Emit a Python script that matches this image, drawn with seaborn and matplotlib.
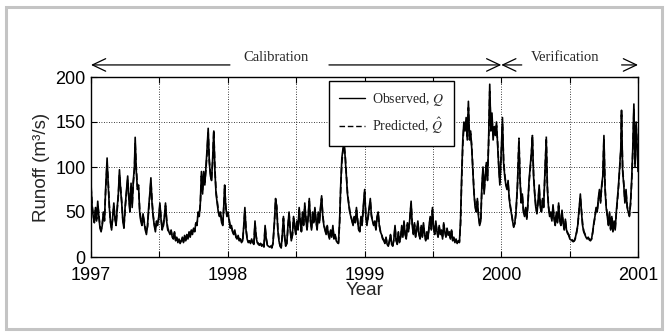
import numpy as np
import pandas as pd
import matplotlib
matplotlib.use("Agg")
import matplotlib.pyplot as plt
import seaborn as sns
from matplotlib.lines import Line2D
from matplotlib.patches import Rectangle

# ---------------- data (day offset from 1997-01-01, runoff m3/s) ----------------
START_YEAR = 1997

obs_1997 = [(0,82),(3,55),(6,45),(9,38),(12,55),(15,40),(18,62),(21,45),(24,32),(27,28),(30,35),(33,50),(36,40),(39,75),(43,110),(46,80),(49,55),(52,38),(55,30),(58,45),(61,60),(64,42),(67,35),(70,55),(73,70),(76,97),(79,75),(82,60),(85,40),(88,32),(91,55),(94,70),(98,90),(101,65),(104,50),(107,82),(110,55),(113,85),(116,100),(118,133),(121,95),(124,75),(127,80),(130,50),(133,40),(136,35),(139,48),(142,38),(145,30),(148,25),(151,35),(154,55),(157,70),(160,88),(163,60),(166,45),(169,35),(172,28),(175,40),(178,35),(181,45),(184,60),(187,42),(190,30),(193,35),(196,45),(199,60),(202,40),(205,30),(208,28),(211,25),(214,30),(217,22),(220,20),(223,28),(226,18),(229,22),(232,16),(235,20),(238,15),(241,18),(244,22),(247,16),(250,24),(253,18),(256,25),(259,20),(262,28),(265,22),(268,30),(271,25),(274,32),(277,28),(280,38),(283,35),(286,50),(289,45),(292,60),(295,95),(298,70),(301,95),(304,80),(307,100),(310,120),(313,143),(316,105),(319,90),(322,85),(325,110),(328,140),(331,95),(334,70),(337,60),(340,50),(343,45),(346,50),(349,38),(352,35),(355,60),(357,80),(360,55),(363,45)]
obs_1998 = [(366,50),(369,40),(372,32),(375,35),(378,28),(381,25),(384,30),(387,22),(390,20),(393,24),(396,18),(399,20),(402,16),(405,18),(408,35),(411,55),(414,30),(417,20),(420,16),(423,18),(426,15),(429,20),(432,16),(435,14),(438,40),(441,22),(444,16),(447,14),(450,13),(453,15),(456,12),(459,14),(462,11),(465,35),(468,20),(471,13),(474,12),(477,11),(480,12),(483,10),(486,15),(490,40),(493,65),(496,55),(499,30),(502,18),(505,12),(508,10),(511,25),(514,45),(517,22),(520,12),(523,15),(526,35),(529,50),(532,30),(535,18),(538,25),(541,45),(544,35),(547,25),(550,40),(553,30),(556,55),(559,38),(562,28),(565,50),(568,35),(571,60),(574,42),(577,30),(580,45),(583,65),(586,40),(589,30),(592,50),(595,38),(598,55),(601,40),(604,30),(607,50),(610,38),(613,55),(616,68),(619,45),(622,35),(625,30),(628,25),(631,35),(634,25),(637,20),(640,30),(643,22),(646,35),(649,20),(652,25),(655,18),(658,16),(661,15),(664,40),(667,80),(670,110),(673,120),(676,127),(679,110),(682,90),(685,70),(688,60),(691,50),(694,45),(697,40),(700,35),(703,45),(706,38),(709,55),(712,40),(715,30),(718,28),(721,45),(724,35),(727,55)]
obs_1999 = [(731,75),(734,45),(737,35),(740,45),(743,55),(746,65),(749,45),(752,40),(755,35),(758,40),(761,30),(764,45),(767,50),(770,35),(773,28),(776,25),(779,20),(782,18),(785,15),(788,22),(791,14),(794,12),(797,18),(800,25),(803,14),(806,12),(809,20),(812,35),(815,18),(818,14),(821,28),(824,16),(827,22),(830,35),(833,22),(836,40),(839,25),(842,20),(845,38),(848,28),(851,40),(855,62),(858,35),(861,25),(864,38),(867,22),(870,30),(873,40),(876,25),(879,20),(882,35),(885,22),(888,38),(891,25),(894,18),(897,28),(900,20),(903,35),(906,45),(909,30),(912,55),(915,32),(918,25),(921,40),(924,28),(927,22),(930,35),(933,25),(936,30),(939,20),(942,38),(945,28),(948,22),(951,32),(954,24),(957,28),(960,20),(963,30),(966,18),(969,22),(972,16),(975,20),(978,15),(981,18),(984,16),(987,40),(990,90),(993,130),(996,150),(999,140),(1002,155),(1005,130),(1008,173),(1011,130),(1014,140),(1017,120),(1020,95),(1023,70),(1026,55),(1029,50),(1032,65),(1035,45),(1038,35),(1041,40),(1044,80),(1047,100),(1050,70),(1053,90),(1056,105),(1059,85),(1062,130),(1065,192),(1068,140),(1071,160),(1074,130),(1077,145),(1080,135),(1083,150),(1086,125),(1089,100),(1092,80)]
obs_2000 = [(1096,120),(1099,155),(1102,105),(1105,90),(1108,80),(1111,75),(1114,85),(1117,65),(1120,55),(1123,48),(1126,40),(1129,33),(1132,38),(1135,50),(1139,80),(1143,128),(1146,85),(1149,60),(1152,70),(1155,50),(1158,45),(1161,55),(1164,42),(1167,60),(1170,85),(1173,100),(1176,115),(1179,133),(1182,90),(1185,70),(1188,55),(1191,48),(1194,62),(1197,80),(1200,55),(1203,50),(1206,65),(1209,55),(1212,90),(1216,130),(1219,75),(1222,55),(1225,45),(1228,50),(1231,40),(1234,58),(1237,42),(1240,35),(1243,50),(1246,38),(1249,60),(1252,40),(1255,35),(1258,52),(1261,38),(1264,30),(1267,42),(1270,30),(1273,26),(1276,24),(1279,20),(1282,19),(1285,18),(1288,17),(1291,18),(1294,22),(1297,28),(1300,35),(1303,50),(1307,70),(1310,50),(1313,35),(1316,28),(1319,25),(1322,22),(1325,20),(1328,22),(1331,19),(1334,18),(1337,20),(1340,28),(1343,38),(1346,45),(1349,55),(1352,50),(1355,65),(1358,75),(1361,60),(1364,80),(1367,90),(1370,135),(1373,75),(1376,55),(1379,45),(1382,35),(1385,50),(1388,30),(1391,45),(1394,28),(1397,40),(1400,30),(1403,50),(1406,65),(1409,80),(1412,100),(1415,120),(1417,163),(1420,95),(1423,80),(1426,60),(1429,75),(1432,55),(1435,50),(1438,45),(1441,60),(1444,85),(1447,120),(1450,170),(1453,100),(1456,150),(1459,120),(1461,95)]

pred_1997 = [(0,78),(3,58),(6,47),(9,40),(12,52),(15,42),(18,58),(21,47),(24,34),(27,30),(30,36),(33,48),(36,42),(39,72),(43,104),(46,84),(49,57),(52,40),(55,32),(58,43),(61,57),(64,44),(67,37),(70,52),(73,68),(76,92),(79,78),(82,62),(85,42),(88,34),(91,52),(94,68),(98,86),(101,68),(104,52),(107,78),(110,58),(113,82),(116,96),(118,126),(121,99),(124,78),(127,77),(130,53),(133,42),(136,37),(139,46),(142,40),(145,32),(148,27),(151,34),(154,52),(157,67),(160,84),(163,63),(166,47),(169,37),(172,30),(175,38),(178,36),(181,43),(184,57),(187,44),(190,32),(193,34),(196,43),(199,57),(202,42),(205,32),(208,29),(211,26),(214,29),(217,23),(220,21),(223,27),(226,19),(229,21),(232,17),(235,19),(238,16),(241,18),(244,21),(247,17),(250,23),(253,19),(256,24),(259,21),(262,27),(265,23),(268,29),(271,26),(274,31),(277,29),(280,37),(283,36),(286,48),(289,46),(292,58),(295,90),(298,74),(301,92),(304,83),(307,97),(310,116),(313,138),(316,108),(319,93),(322,87),(325,106),(328,141),(331,98),(334,73),(337,62),(340,52),(343,46),(346,49),(349,40),(352,36),(355,58),(357,76),(360,57),(363,46)]
pred_1998 = [(366,48),(369,42),(372,34),(375,34),(378,29),(381,26),(384,29),(387,23),(390,21),(393,23),(396,19),(399,20),(402,17),(405,18),(408,32),(411,52),(414,32),(417,21),(420,17),(423,18),(426,16),(429,19),(432,17),(435,15),(438,37),(441,24),(444,17),(447,15),(450,14),(453,15),(456,13),(459,14),(462,12),(465,33),(468,21),(471,14),(474,13),(477,12),(480,12),(483,11),(486,15),(490,38),(493,62),(496,57),(499,32),(502,19),(505,13),(508,11),(511,24),(514,43),(517,24),(520,13),(523,15),(526,33),(529,48),(532,32),(535,19),(538,24),(541,43),(544,36),(547,26),(550,38),(553,31),(556,52),(559,40),(562,29),(565,48),(568,36),(571,57),(574,44),(577,31),(580,44),(583,62),(586,42),(589,31),(592,48),(595,39),(598,53),(601,41),(604,31),(607,48),(610,39),(613,53),(616,65),(619,47),(622,36),(625,31),(628,26),(631,34),(634,26),(637,21),(640,29),(643,23),(646,33),(649,21),(652,24),(655,19),(658,17),(661,16),(664,37),(667,76),(670,105),(673,118),(676,124),(679,113),(682,92),(685,72),(688,61),(691,52),(694,46),(697,41),(700,36),(703,44),(706,39),(709,52),(712,42),(715,31),(718,29),(721,43),(724,36),(727,52)]
pred_1999 = [(731,72),(734,47),(737,37),(740,43),(743,53),(746,62),(749,47),(752,41),(755,36),(758,39),(761,31),(764,43),(767,48),(770,36),(773,29),(776,26),(779,21),(782,19),(785,16),(788,21),(791,15),(794,13),(797,17),(800,24),(803,15),(806,13),(809,19),(812,33),(815,19),(818,15),(821,27),(824,17),(827,21),(830,33),(833,23),(836,38),(839,26),(842,21),(845,36),(848,29),(851,39),(855,59),(858,37),(861,26),(864,36),(867,23),(870,29),(873,38),(876,26),(879,21),(882,33),(885,23),(888,36),(891,26),(894,19),(897,27),(900,21),(903,33),(906,43),(909,31),(912,52),(915,34),(918,26),(921,38),(924,29),(927,23),(930,33),(933,26),(936,29),(939,21),(942,36),(945,29),(948,23),(951,31),(954,25),(957,27),(960,21),(963,29),(966,19),(969,21),(972,17),(975,19),(978,16),(981,17),(984,17),(987,36),(990,84),(993,124),(996,146),(999,143),(1002,150),(1005,134),(1008,166),(1011,134),(1014,137),(1017,123),(1020,98),(1023,73),(1026,57),(1029,51),(1032,62),(1035,47),(1038,37),(1041,39),(1044,76),(1047,96),(1050,73),(1053,87),(1056,102),(1059,88),(1062,126),(1065,184),(1068,145),(1071,155),(1074,134),(1077,141),(1080,138),(1083,146),(1086,128),(1089,103),(1092,83)]
pred_2000 = [(1096,116),(1099,148),(1102,108),(1105,92),(1108,82),(1111,77),(1114,82),(1117,67),(1120,57),(1123,49),(1126,41),(1129,34),(1132,37),(1135,48),(1139,78),(1143,132),(1146,88),(1149,62),(1152,68),(1155,52),(1158,46),(1161,53),(1164,44),(1167,58),(1170,82),(1173,97),(1176,112),(1179,135),(1182,93),(1185,72),(1188,57),(1191,49),(1194,60),(1197,77),(1200,57),(1203,51),(1206,63),(1209,56),(1212,87),(1216,134),(1219,78),(1222,57),(1225,46),(1228,48),(1231,41),(1234,55),(1237,43),(1240,36),(1243,48),(1246,39),(1249,57),(1252,42),(1255,36),(1258,50),(1261,39),(1264,31),(1267,40),(1270,31),(1273,27),(1276,25),(1279,21),(1282,20),(1285,19),(1288,18),(1291,18),(1294,21),(1297,27),(1300,34),(1303,48),(1307,67),(1310,52),(1313,37),(1316,29),(1319,26),(1322,23),(1325,21),(1328,21),(1331,20),(1334,19),(1337,20),(1340,27),(1343,36),(1346,44),(1349,53),(1352,51),(1355,62),(1358,72),(1361,62),(1364,77),(1367,88),(1370,132),(1373,78),(1376,57),(1379,46),(1382,36),(1385,48),(1388,31),(1391,43),(1394,29),(1397,38),(1400,31),(1403,48),(1406,62),(1409,78),(1412,97),(1415,117),(1417,158),(1420,98),(1423,82),(1426,62),(1429,72),(1432,57),(1435,51),(1438,46),(1441,58),(1444,82),(1447,116),(1450,164),(1453,104),(1456,146),(1459,124),(1461,98)]

x_ticks = [1997, 1997.5, 1998, 1998.5, 1999, 1999.5, 2000, 2000.5, 2001]
x_tick_labels = ["1997", "", "1998", "", "1999", "", "2000", "", "2001"]
y_ticks = [0, 50, 100, 150, 200]
series_labels = ["Observed, $Q$", "Predicted, $\\hat{Q}$"]


def to_frame(pairs, name):
    d = np.array([p[0] for p in pairs], dtype=float)
    v = np.array([p[1] for p in pairs], dtype=float)
    return pd.DataFrame({"Year": START_YEAR + d / 365.25, "Runoff": v, "Series": name})


df_obs = to_frame(obs_1997 + obs_1998 + obs_1999 + obs_2000, "Observed")
df_pred = to_frame(pred_1997 + pred_1998 + pred_1999 + pred_2000, "Predicted")

# ---------------- style ----------------
sns.set_style("ticks")
plt.rcParams["font.family"] = ["Liberation Sans", "DejaVu Sans"]
plt.rcParams["mathtext.fontset"] = "stix"

fig = plt.figure(figsize=(6.68, 3.32), dpi=100)
ax = fig.add_axes([91 / 668, 75 / 332, 547 / 668, 180 / 332])

sns.lineplot(data=df_pred, x="Year", y="Runoff", color="black", linewidth=1.2,
             linestyle=(0, (4, 2)), estimator=None, sort=False, ax=ax, legend=False)
sns.lineplot(data=df_obs, x="Year", y="Runoff", color="black", linewidth=1.2,
             estimator=None, sort=False, ax=ax, legend=False)

ax.set_xlim(1997, 2001)
ax.set_ylim(0, 200)
ax.set_xticks(x_ticks)
ax.set_xticklabels(x_tick_labels)
ax.set_yticks(y_ticks)
ax.tick_params(direction="in", top=True, right=True, length=4, width=0.8,
               labelsize=13, colors="black")
ax.tick_params(axis="x", pad=7)
ax.tick_params(axis="y", pad=4)
ax.grid(True, linestyle=(0, (1, 2)), color="black", linewidth=0.6)
for s in ax.spines.values():
    s.set_linewidth(1.0)
    s.set_color("black")

ax.set_xlabel("Year", fontsize=13.5, labelpad=-1)
ax.set_ylabel("Runoff (m³/s)", fontsize=13.5, labelpad=4)

# legend
handles = [Line2D([], [], color="black", lw=1.0),
           Line2D([], [], color="black", lw=1.0, linestyle=(0, (4, 2)))]
leg = ax.legend(handles, series_labels, loc="upper left",
                bbox_to_anchor=(238 / 547, 176 / 180),
                prop={"family": "Liberation Serif", "size": 10},
                frameon=True, fancybox=False, edgecolor="black",
                handlelength=1.9, handletextpad=0.5, labelspacing=0.6,
                borderpad=0.7, borderaxespad=0)
leg.get_frame().set_linewidth(1.0)
leg.get_frame().set_alpha(1)

# calibration / verification arrows
arrow_y = 1.067
aprops = dict(arrowstyle="->,head_length=0.95,head_width=0.45", color="black",
              lw=0.9, shrinkA=0, shrinkB=0)
for start, end in [(1998.016, 1997.0), (1998.74, 2000.0), (2000.15, 2000.0), (2000.88, 2001.0)]:
    ax.annotate("", xy=(end, arrow_y), xytext=(start, arrow_y),
                xycoords=("data", "axes fraction"), textcoords=("data", "axes fraction"),
                arrowprops=aprops, annotation_clip=False)
ax.text(1998.353, 1.111, "Calibration", transform=ax.get_xaxis_transform(),
        ha="center", va="center", family="Liberation Serif", fontsize=10.5)
ax.text(2000.47, 1.111, "Verification", transform=ax.get_xaxis_transform(),
        ha="center", va="center", family="Liberation Serif", fontsize=10.5)

# figure border
fig.patches.append(Rectangle((6 / 668, 3 / 332), 656 / 668, 322 / 332,
                             transform=fig.transFigure, fill=False,
                             edgecolor="#c4c4c4", linewidth=2.2))

fig.savefig("out.png", dpi=100)
